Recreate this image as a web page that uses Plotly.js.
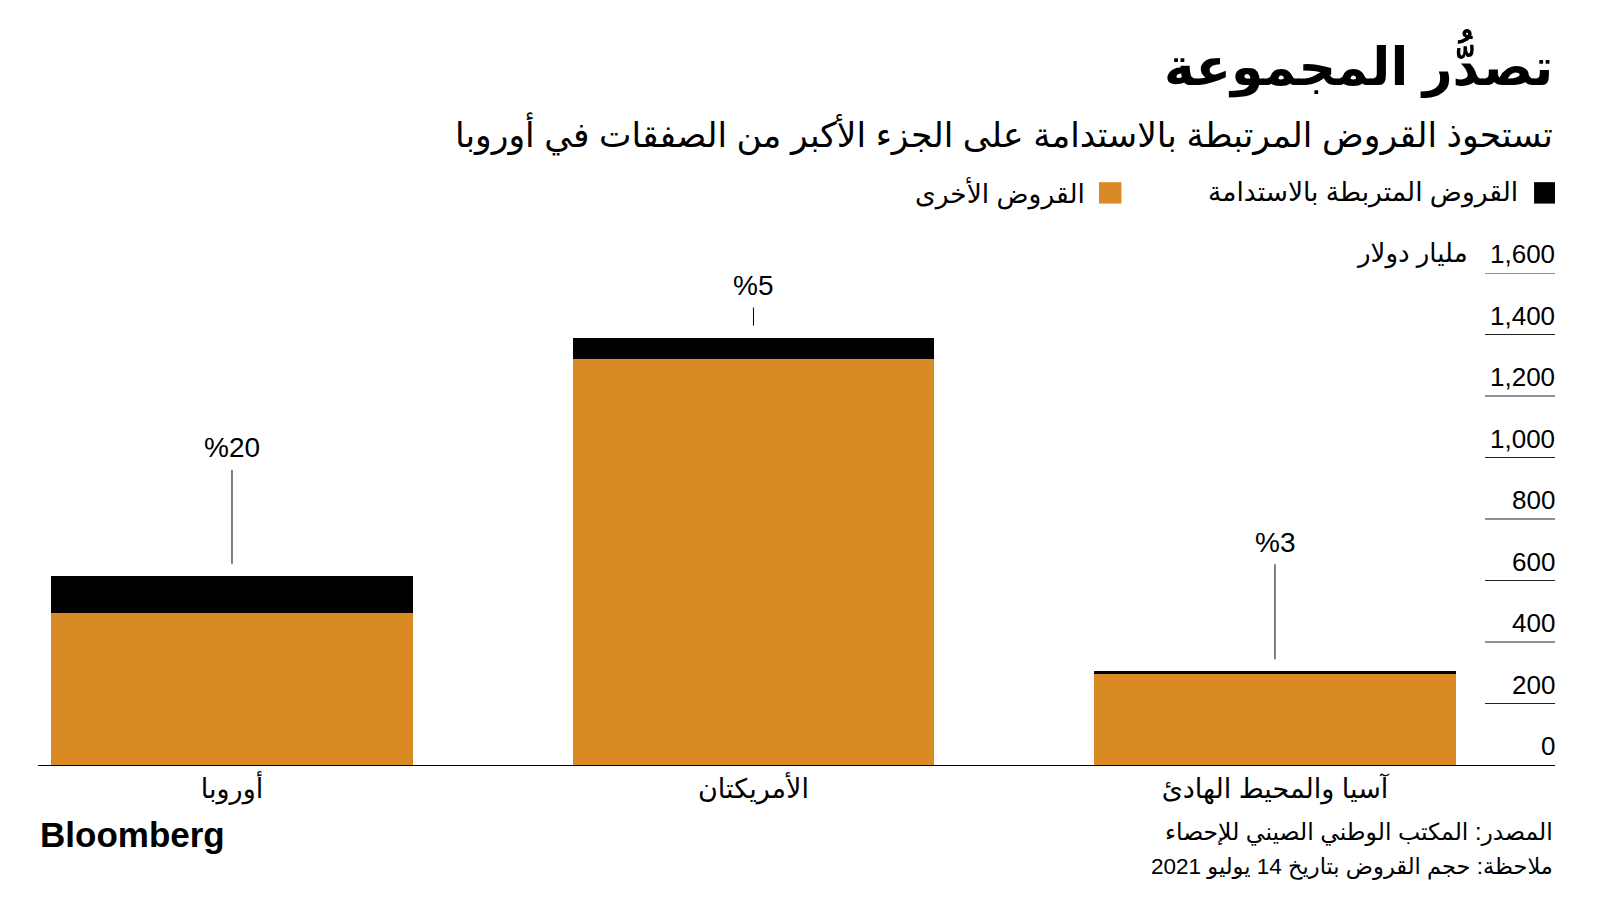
<!DOCTYPE html>
<html>
<head>
<meta charset="utf-8">
<script src="https://cdn.plot.ly/plotly-3.0.1.min.js"></script>
<style>html,body{margin:0;padding:0;background:#fff;}#chart{width:1600px;height:901px;}</style>
</head>
<body>
<div id="chart"></div>
<script>
// ---- data ----
const categories = ["أوروبا", "الأمريكتان", "آسيا والمحيط الهادئ"];
const sustainableLoans = [120, 70, 9];
const otherLoans = [495, 1320, 296];
const shareLabels = ["%20", "%5", "%3"];
const yTickValues = [0, 200, 400, 600, 800, 1000, 1200, 1400, 1600];
const yTickLabels = ["0", "200", "400", "600", "800", "1,000", "1,200", "1,400", "1,600"];
const seriesNames = ["القروض المتربطة بالاستدامة", "القروض الأخرى"];
const titleText = "تصدُّر المجموعة";
const subtitleText = "تستحوذ القروض المرتبطة بالاستدامة على الجزء الأكبر من الصفقات في أوروبا";
const unitText = "مليار دولار";
const sourceText = "المصدر: المكتب الوطني الصيني للإحصاء";
const noteText = "ملاحظة: حجم القروض بتاريخ 14 يوليو 2021";

const ORANGE = "#DA8A25";
const FONT = "Liberation Sans, DejaVu Sans, sans-serif";

const traces = [
  {type: "bar", x: categories, y: otherLoans, name: seriesNames[1],
   marker: {color: ORANGE, line: {width: 0}}, width: 0.694, hoverinfo: "skip"},
  {type: "bar", x: categories, y: sustainableLoans, name: seriesNames[0],
   marker: {color: "#000000", line: {width: 0}}, width: 0.694, hoverinfo: "skip"}
];

const annotations = [];
const shapes = [];

// y tick labels & short gridlines on the right
yTickValues.forEach((v, i) => {
  annotations.push({xref: "paper", yref: "y", x: 1, y: v, xanchor: "right", yanchor: "bottom",
    text: yTickLabels[i], showarrow: false, yshift: 2, xshift: 2, font: {family: FONT, size: 26, color: "#000"}});
  if (v > 0) {
    shapes.push({type: "line", xref: "paper", yref: "y", x0: 0.9539, x1: 1, y0: v, y1: v,
      line: {color: "#222", width: 1}});
  }
});
// unit label
annotations.push({xref: "paper", yref: "y", x: 0.944, y: 1600, xanchor: "right", yanchor: "bottom",
  text: unitText, showarrow: false, yshift: 2, font: {family: FONT, size: 26, color: "#000"}});

// share annotations
const offsets = [-128, -52, -129];
categories.forEach((c, i) => {
  annotations.push({x: c, y: sustainableLoans[i] + otherLoans[i], xref: "x", yref: "y",
    text: shareLabels[i], showarrow: true, arrowhead: 0, arrowwidth: 1, arrowcolor: "#000",
    ax: 0, ay: offsets[i], standoff: 12, borderpad: 6,
    font: {family: FONT, size: 28, color: "#000"}});
});

// title, subtitle
annotations.push({xref: "paper", yref: "paper", x: 1, y: 1.4254, xanchor: "right", yanchor: "middle",
  text: "<b>" + titleText + "</b>", showarrow: false, font: {family: FONT, size: 52, color: "#000"}});
annotations.push({xref: "paper", yref: "paper", x: 1, y: 1.2832, xanchor: "right", yanchor: "middle",
  text: subtitleText, showarrow: false, font: {family: FONT, size: 34.5, color: "#000"}});

// custom RTL legend
annotations.push({xref: "paper", yref: "paper", x: 0.977, y: 1.1635, xanchor: "right", yanchor: "middle",
  text: seriesNames[0], showarrow: false, font: {family: FONT, size: 26.5, color: "#000"}});
annotations.push({xref: "paper", yref: "paper", x: 0.6915, y: 1.1635, xanchor: "right", yanchor: "middle",
  text: seriesNames[1], showarrow: false, font: {family: FONT, size: 26.5, color: "#000"}});
shapes.push({type: "rect", xref: "paper", yref: "paper", x0: 0.9862, x1: 1.0, y0: 1.1411, y1: 1.1846,
  fillcolor: "#000", line: {width: 0}});
shapes.push({type: "rect", xref: "paper", yref: "paper", x0: 0.6994, x1: 0.7142, y0: 1.1411, y1: 1.1846,
  fillcolor: ORANGE, line: {width: 0}});

// footer
annotations.push({xref: "paper", yref: "paper", x: 0, y: -0.142, xanchor: "left", yanchor: "middle",
  text: "<b>Bloomberg</b>", showarrow: false, font: {family: "Liberation Sans, Arial, sans-serif", size: 35, color: "#000"}});
annotations.push({xref: "paper", yref: "paper", x: 1, y: -0.1381, xanchor: "right", yanchor: "middle",
  text: sourceText, showarrow: false, font: {family: FONT, size: 23.5, color: "#000"}});
annotations.push({xref: "paper", yref: "paper", x: 1, y: -0.2071, xanchor: "right", yanchor: "middle",
  text: noteText, showarrow: false, font: {family: FONT, size: 22.5, color: "#000"}});

const layout = {
  width: 1600, height: 901,
  margin: {l: 38, r: 45, t: 272.5, b: 136, pad: 0},
  paper_bgcolor: "#fff", plot_bgcolor: "#fff",
  barmode: "stack", showlegend: false,
  xaxis: {type: "category", range: [-0.372, 2.537], showgrid: false, zeroline: false,
    showline: true, linecolor: "#000", linewidth: 1, ticks: "", fixedrange: true,
    tickfont: {family: FONT, size: 27, color: "#000"}},
  yaxis: {range: [0, 1600], showgrid: false, zeroline: false, showline: false,
    showticklabels: false, ticks: "", fixedrange: true},
  annotations: annotations, shapes: shapes
};

Plotly.newPlot("chart", traces, layout, {displayModeBar: false, staticPlot: true});
</script>
</body>
</html>
